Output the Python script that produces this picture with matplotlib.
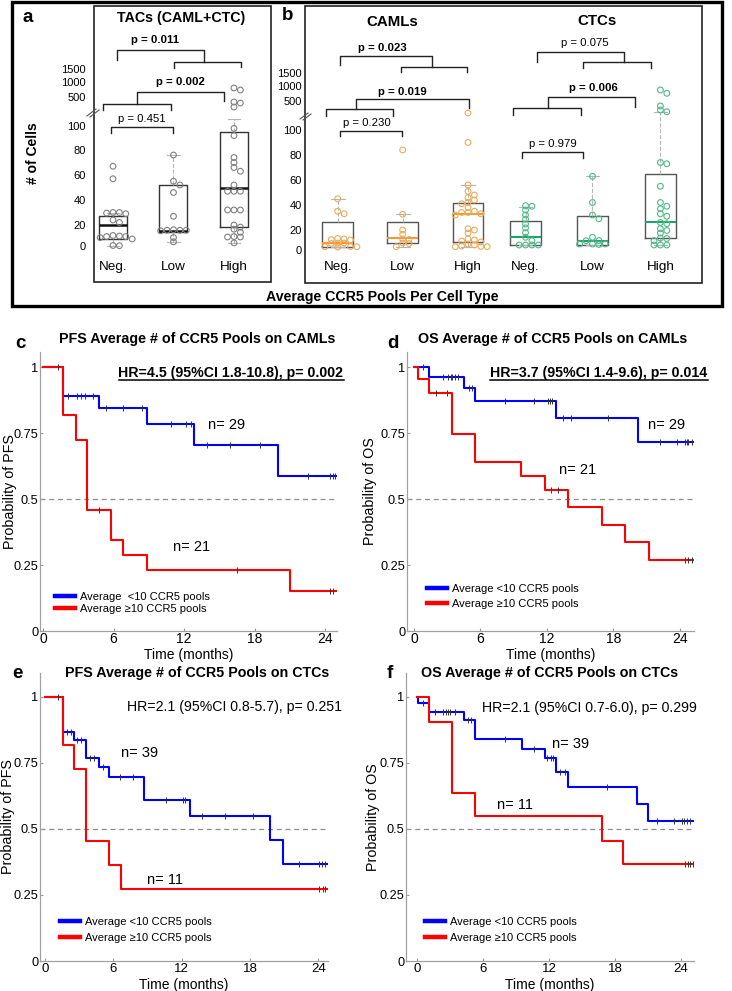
import numpy as np
import matplotlib.pyplot as plt
from matplotlib.patches import Rectangle
from matplotlib.lines import Line2D

plt.rcParams['font.family'] = ['Liberation Sans', 'DejaVu Sans']

# ---------------- data: box plots (# of cells) ----------------
groups = ['Neg.', 'Low', 'High']

# TACs (CAML+CTC)
tac_q1 = [6.7, 13.3, 18.1]
tac_med = [20, 14.6, 50]
tac_q3 = [27.3, 52.3, 95.2]
tac_lo = [0.3, 3.8, 2.9]
tac_hi = [29.7, 76.4, 200]
tac_neg = [67, 57, 30, 30, 29.5, 29, 24, 22, 10, 9.5, 9, 9, 8, 6.7, 0.5, 0.3]
tac_low = [76, 55, 52, 46, 27, 15.5, 15, 15, 15, 14.5, 8, 4]
tac_high = [800, 733, 431, 417, 362, 98, 92, 74, 70, 66, 63, 52, 47, 47, 47,
            32, 32, 32, 20, 18, 16, 13, 9, 8.6, 8.6, 3]

# CAMLs
caml_q1 = [3.3, 6.7, 8.3]
caml_med = [6.7, 12.3, 32.6]
caml_q3 = [26.6, 26.2, 41.4]
caml_lo = [3.3, 3.3, 3.3]
caml_hi = [44.6, 32.6, 56]
caml_neg = [45, 35, 33, 11.5, 11, 10.5, 10, 7, 7, 6.5, 3.5, 3.3, 3.3, 3]
caml_low = [84, 32.6, 20, 15.7, 11, 10.5, 7, 6.5, 3.3]
caml_high = [334, 90, 56, 51, 48, 46, 44, 42, 41, 38, 35, 34, 34, 33, 32, 21,
             20, 17, 11, 10, 9, 8, 6, 5, 4, 3.5, 3.3, 3.3]

# CTCs
ctc_q1 = [5, 5, 12.3]
ctc_med = [12.7, 9.3, 26.6]
ctc_q3 = [27.4, 31.2, 64.6]
ctc_lo = [5, 5, 5]
ctc_hi = [38.5, 63.2, 352]
ctc_neg = [39.5, 39, 36, 32, 28.6, 24.8, 21.7, 17.3, 12.7, 9.3, 5, 5, 5, 5]
ctc_low = [63, 42, 32, 29, 12.7, 9.5, 9.3, 6, 6, 6, 5.5]
ctc_high = [867, 757, 431, 376, 352, 74, 73, 55, 42, 39, 37, 33, 31, 26, 25,
            21, 19.5, 17, 12, 11.5, 9.3, 5, 5, 5]

ytick_vals = [0, 20, 40, 60, 80, 100, 500, 1000, 1500]

# ---------------- data: Kaplan-Meier curves ----------------
# c: PFS on CAMLs
c_blue_t = [1.7, 4.77, 8.85, 12.85, 20.0]
c_blue_s = [0.89, 0.845, 0.784, 0.705, 0.587]
c_blue_c = [2.13, 2.89, 3.23, 3.57, 4.26, 5.36, 6.81, 8.43, 10.89, 12.17, 12.6,
            13.96, 15.91, 18.47, 22.55, 24.43, 24.68, 24.85]
c_red_t = [1.7, 2.81, 3.74, 5.79, 6.81, 8.85, 21.0]
c_red_s = [0.818, 0.723, 0.458, 0.345, 0.288, 0.231, 0.152]
c_red_c = [1.28, 4.77, 16.5, 24.43, 24.68]

# d: OS on CAMLs
d_blue_t = [1.35, 4.55, 5.55, 12.8, 20.2]
d_blue_s = [0.962, 0.92, 0.871, 0.807, 0.716]
d_blue_c = [0.8, 2.65, 3.1, 3.35, 3.45, 3.7, 4.0, 4.97, 5.2, 8.2, 10.8, 12.1, 12.3,
            12.5, 13.5, 14.2, 17.55, 22.2, 23.8, 24.5, 24.7, 24.8, 25.1]
d_red_t = [0.4, 1.4, 3.45, 5.55, 9.7, 11.8, 13.9, 17.0, 19.05, 21.2]
d_red_s = [0.955, 0.90, 0.746, 0.64, 0.587, 0.534, 0.47, 0.40, 0.337, 0.269]
d_red_c = [2.0, 2.95, 12.4, 13.0, 24.5, 24.75, 25.1]

# e: PFS on CTCs
e_blue_t = [1.55, 2.55, 3.6, 4.7, 5.65, 8.7, 12.7, 19.8, 20.9]
e_blue_s = [0.866, 0.837, 0.77, 0.735, 0.696, 0.61, 0.549, 0.458, 0.366]
e_blue_c = [1.9, 2.3, 2.85, 3.2, 3.95, 4.3, 5.1, 6.6, 7.75, 10.6, 12.1, 12.3,
            13.75, 15.8, 18.3, 22.3, 24.1, 24.3, 24.6]
e_red_t = [1.55, 2.55, 3.6, 5.6, 6.65]
e_red_s = [0.818, 0.727, 0.455, 0.364, 0.273]
e_red_c = [1.1, 24.1, 24.4, 24.6]

# f: OS on CTCs
f_blue_t = [0.06, 1.12, 4.3, 5.3, 9.5, 11.6, 12.6, 13.7, 20.0, 21.0]
f_blue_s = [0.975, 0.943, 0.913, 0.841, 0.803, 0.768, 0.717, 0.658, 0.594, 0.528]
f_blue_c = [0.57, 1.6, 2.4, 2.6, 2.8, 3.0, 3.45, 4.6, 4.9, 8.0, 10.6, 11.8, 12.2,
            12.4, 13.0, 13.45, 17.3, 21.8, 23.4, 24.1, 24.3, 24.5, 24.8]
f_red_t = [1.12, 3.2, 5.3, 16.8, 18.7]
f_red_s = [0.906, 0.635, 0.547, 0.455, 0.366]
f_red_c = [24.4, 24.6, 24.8, 25.1]

BLUE = '#0000ff'
RED = '#ff0000'

# ---------------- figure ----------------
W, H = 732, 991
fig = plt.figure(figsize=(W / 100, H / 100), dpi=100)


def add_ax(l, t, r, b):
    return fig.add_axes([l / W, 1 - b / H, (r - l) / W, (b - t) / H])


def broken_scale(px, bottom):
    # piecewise linear value -> height mapping (y axis has a break above 100)
    px = np.asarray(px, float)
    lo = px[0] + 1000 * (px[0] - px[1]) / 20
    hi = px[-1] - 98500 * (px[-2] - px[-1]) / 500
    v = np.concatenate([[-1000], ytick_vals, [100000]])
    h = bottom - np.concatenate([[lo], px, [hi]])
    return (lambda x: np.interp(x, v, h)), (lambda y: np.interp(y, h, v))


def swarm(vals, fwd, unit_px, step=6.4, mind=3.8):
    ys = fwd(np.asarray(vals, float))
    xs = []
    for y in ys:
        k = 0
        while True:
            cands = [0.0] if k == 0 else [k * step, -k * step]
            found = None
            for c in cands:
                if all((c - xs[j]) ** 2 + (y - ys[j]) ** 2 >= mind ** 2
                       for j in range(len(xs))):
                    found = c
                    break
            if found is not None:
                xs.append(found)
                break
            k += 1
    return np.array(xs) / unit_px


def boxes(ax, pos, q1, med, q3, lo, hi, pts, fwd, unit_px, width,
          med_color, med_lw, pt_color, box_color):
    stats = [dict(q1=a, med=m, q3=c, whislo=w0, whishi=w1, fliers=[])
             for a, m, c, w0, w1 in zip(q1, med, q3, lo, hi)]
    ax.bxp(stats, positions=pos, widths=width, capwidths=width * 0.45,
           showfliers=False, manage_ticks=False,
           boxprops=dict(color=box_color, lw=1.0),
           medianprops=dict(color=med_color, lw=med_lw),
           whiskerprops=dict(color='#b5b5b5', lw=0.8, ls='--'),
           capprops=dict(color='#b5b5b5', lw=0.8))
    for p, v in zip(pos, pts):
        off = swarm(v, fwd, unit_px)
        ax.scatter(p + off, v, s=17, facecolors='none', edgecolors=pt_color,
                   linewidths=0.8, zorder=3)


def style_box_axes(ax, pad):
    for s in ax.spines.values():
        s.set_visible(False)
    ax.patch.set_visible(False)
    ax.set_xticks([])
    ax.set_yticks(ytick_vals)
    ax.set_yticklabels([str(v) for v in ytick_vals])
    ax.tick_params(axis='y', length=0, pad=pad, labelsize=8)


# panel a
ax_a = add_ax(94, 6, 271, 282)
fa, ia = broken_scale([246, 225, 200, 175, 150, 126, 97, 82, 69], 282)
ax_a.set_yscale('function', functions=(fa, ia))
pos_a = [1, 2, 3]
boxes(ax_a, pos_a, tac_q1, tac_med, tac_q3, tac_lo, tac_hi,
      [tac_neg, tac_low, tac_high], fa, 60.5, 0.463, '#111111', 1.8,
      '#808080', '#333333')
ax_a.set_ylim(ia(0), ia(276))
ax_a.set_xlim(0.686, 3.612)
style_box_axes(ax_a, 5.8)
for p, g in zip(pos_a, groups):
    ax_a.text(p, 0.054, g, transform=ax_a.get_xaxis_transform(),
              ha='center', va='center', fontsize=9.7)

# panel b
ax_b = add_ax(305, 6, 702, 283)
fb, ib = broken_scale([250, 230, 205, 180, 155, 130, 101, 86, 73], 283)
ax_b.set_yscale('function', functions=(fb, ib))
pos_caml = [1, 2, 3.005]
pos_ctc = [3.89, 4.92, 5.965]
boxes(ax_b, pos_caml, caml_q1, caml_med, caml_q3, caml_lo, caml_hi,
      [caml_neg, caml_low, caml_high], fb, 65, 0.47, '#f39a2e', 1.5,
      '#eaaa5c', '#555555')
boxes(ax_b, pos_ctc, ctc_q1, ctc_med, ctc_q3, ctc_lo, ctc_hi,
      [ctc_neg, ctc_low, ctc_high], fb, 65, 0.47, '#1fa36c', 1.5,
      '#4fb987', '#555555')
ax_b.set_ylim(ib(0), ib(277))
ax_b.set_xlim(0.497, 6.605)
style_box_axes(ax_b, 2.2)
for p, g in zip(pos_caml + pos_ctc, groups + groups):
    ax_b.text(p, 0.058, g, transform=ax_b.get_xaxis_transform(),
              ha='center', va='center', fontsize=9.7)


# Kaplan-Meier panels
def km_curve(ax, t, s, cens, t_end, color):
    tt = np.concatenate([[0], t, [t_end]])
    ss = np.concatenate([[1], s, [s[-1]]])
    ax.step(tt, ss, where='post', color=color, lw=1.5, zorder=3)
    idx = np.searchsorted(t, cens, side='right')
    cs = np.concatenate([[1], s])[idx]
    ax.plot(cens, cs, ls='none', marker='|', ms=4, mew=0.7, color='#333333',
            zorder=4)


def km_panel(rect, xlim, ytop, blue, red, ylab, leg_xy, leg_gap, tick_pad,
             xlab_off, ylab_x, leg_labels, xfs=10):
    l, t, r, b = rect
    ax = add_ax(l, t, r, b)
    ax.axhline(0.5, color='#8c8c8c', lw=0.9, ls=(0, (4, 3)), zorder=1)
    km_curve(ax, *blue, xlim[1], BLUE)
    km_curve(ax, *red, xlim[1], RED)
    ax.set_xlim(*xlim)
    ax.set_ylim(0, ytop)
    ax.set_xticks([0, 6, 12, 18, 24])
    ax.set_yticks([0, 0.25, 0.5, 0.75, 1])
    ax.set_yticklabels(['0', '0.25', '0.5', '0.75', '1'])
    ax.tick_params(axis='y', direction='in', length=2.5, pad=1, labelsize=9.2,
                   color='#999999')
    ax.tick_params(axis='x', direction='in', length=2.5, pad=tick_pad,
                   labelsize=xfs, color='#999999')
    for s in ['top', 'right']:
        ax.spines[s].set_visible(False)
    for s in ['left', 'bottom']:
        ax.spines[s].set_color('#a0a0a0')
        ax.spines[s].set_linewidth(0.9)
    ax.set_xlabel('Time (months)', fontsize=10)
    ax.xaxis.set_label_coords(0.5, -xlab_off / (b - t))
    ax.set_ylabel(ylab, fontsize=10.3)
    ax.yaxis.set_label_coords(-(l - ylab_x - 7) / (r - l), 0.5)
    hx, hy = leg_xy
    handles = [Line2D([], [], color=BLUE, lw=3.2), Line2D([], [], color=RED, lw=3.2)]
    ax.legend(handles, leg_labels, loc='upper left',
              bbox_to_anchor=((hx - l) / (r - l), (b - (hy - 6.4)) / (b - t)),
              frameon=False, borderpad=0, borderaxespad=0, handlelength=1.8,
              handletextpad=0.45, labelspacing=(leg_gap - 12.7) / 11.1,
              fontsize=8)
    return ax


lab_lt = 'Average <10 CCR5 pools'
lab_ge = 'Average \u226510 CCR5 pools'

km_panel((40, 352, 337, 631), (-0.255, 25.02), 1.057,
         (c_blue_t, c_blue_s, c_blue_c), (c_red_t, c_red_s, c_red_c),
         'Probability of PFS', (55, 598), 15, 0.5, 17, 10,
         ['Average  <10 CCR5 pools', lab_ge])
km_panel((407, 352, 694, 631), (-0.63, 25.3), 1.057,
         (d_blue_t, d_blue_s, d_blue_c), (d_red_t, d_red_s, d_red_c),
         'Probability of OS', (427, 590), 18, 0.5, 17, 370,
         [lab_lt, lab_ge])
km_panel((40, 673, 328, 961), (-0.44, 24.85), 1.09,
         (e_blue_t, e_blue_s, e_blue_c), (e_red_t, e_red_s, e_red_c),
         'Probability of PFS', (60, 923), 19, 1.2, 17, 8,
         [lab_lt, lab_ge], xfs=9.5)
km_panel((406, 673, 694, 961), (-1.0, 25.18), 1.09,
         (f_blue_t, f_blue_s, f_blue_c), (f_red_t, f_red_s, f_red_c),
         'Probability of OS', (425, 923), 19, 1.2, 17, 373,
         [lab_lt, lab_ge], xfs=9.5)

# ---------------- overlay: frames, brackets, labels ----------------
ov = fig.add_axes([0, 0, 1, 1])
ov.set_xlim(0, W)
ov.set_ylim(H, 0)
ov.axis('off')

ov.add_patch(Rectangle((12, 2), 710, 304, fill=False, lw=2.4, ec='black'))
ov.add_patch(Rectangle((94, 6), 177, 276, fill=False, lw=1.2, ec='#222222'))
ov.add_patch(Rectangle((305, 6), 397, 277, fill=False, lw=1.2, ec='#222222'))

brackets = [
    (117, 204, 50, 60, 62), (174, 241, 62, 68, 67), (137, 224, 92, 104, 101),
    (103, 171, 104, 110, 110), (111, 173, 127, 133, 133),
    (340, 432, 56, 65, 67), (401, 467, 67, 72, 72), (356, 469, 99, 109, 108),
    (326, 393, 109, 116, 116), (340, 402, 131, 136, 136),
    (537, 624, 52, 62, 62), (583, 651, 62, 68, 68), (548, 635, 97, 108, 107),
    (513, 581, 108, 115, 115), (522, 583, 152, 158, 158),
]
for x1, x2, y, y1, y2 in brackets:
    ov.plot([x1, x1, x2, x2], [y1, y, y, y2], color='#222222', lw=1.0)

pvals = [
    ('p = 0.011', 155, 40, 'bold'), ('p = 0.002', 180, 82, 'bold'),
    ('p = 0.451', 142, 119, 'normal'),
    ('p = 0.023', 382, 48, 'bold'), ('p = 0.019', 402, 92, 'bold'),
    ('p = 0.230', 367, 123, 'normal'),
    ('p = 0.075', 585, 43, 'normal'), ('p = 0.006', 593, 88, 'bold'),
    ('p = 0.979', 553, 144, 'normal'),
]
for txt, x, y, w in pvals:
    ov.text(x, y, txt, ha='center', va='center', fontsize=8.2, fontweight=w)

# axis break marks
for dx in (0, 3):
    ov.plot([87 + dx, 96 + dx], [116 + dx / 3, 109 + dx / 3], color='#555555', lw=0.8)
    ov.plot([300 + dx, 308 + dx], [119 + dx / 3, 113 + dx / 3], color='#555555', lw=0.8)

ov.text(28, 17, 'a', ha='center', va='center', fontsize=13.5, fontweight='bold')
ov.text(288, 16, 'b', ha='center', va='center', fontsize=13.5, fontweight='bold')
ov.text(181, 18, 'TACs (CAML+CTC)', ha='center', va='center', fontsize=10.3,
        fontweight='bold')
ov.text(392, 22, 'CAMLs', ha='center', va='center', fontsize=10.8, fontweight='bold')
ov.text(597, 21, 'CTCs', ha='center', va='center', fontsize=10.8, fontweight='bold')
ov.text(33, 153, '# of Cells', ha='center', va='center', rotation=90, fontsize=10,
        fontweight='bold')
ov.text(382, 297, 'Average CCR5 Pools Per Cell Type', ha='center', va='center',
        fontsize=10.2, fontweight='bold')

km_text = [
    ('c', 20, 343, 197, 339, 'PFS Average # of CCR5 Pools on CAMLs'),
    ('d', 393, 343, 553, 339, 'OS Average # of CCR5 Pools on CAMLs'),
    ('e', 17, 673, 197, 673, 'PFS Average # of CCR5 Pools on CTCs'),
    ('f', 390, 673, 550, 673, 'OS Average # of CCR5 Pools on CTCs'),
]
for let, lx, ly, tx, ty, title in km_text:
    ov.text(lx, ly, let, ha='center', va='center', fontsize=13.5, fontweight='bold')
    ov.text(tx, ty, title, ha='center', va='center', fontsize=10.3, fontweight='bold')

hr_bold = [
    ov.text(231, 373, 'HR=4.5 (95%CI 1.8-10.8), p= 0.002', ha='center',
            va='center', fontsize=10.2, fontweight='bold'),
    ov.text(599, 373, 'HR=3.7 (95%CI 1.4-9.6), p= 0.014', ha='center',
            va='center', fontsize=10.2, fontweight='bold'),
]
ov.text(235, 707, 'HR=2.1 (95%CI 0.8-5.7), p= 0.251', ha='center', va='center',
        fontsize=10.2)
ov.text(589, 708, 'HR=2.1 (95%CI 0.7-6.0), p= 0.299', ha='center', va='center',
        fontsize=10.2)

n_labels = [('n= 29', 227, 425), ('n= 21', 192, 547), ('n= 29', 667, 425),
            ('n= 21', 578, 470), ('n= 39', 140, 753), ('n= 11', 165, 880),
            ('n= 39', 571, 744), ('n= 11', 515, 805)]
for txt, x, y in n_labels:
    ov.text(x, y, txt, ha='center', va='center', fontsize=10.5)

# underline the bold hazard-ratio texts
fig.canvas.draw()
inv = ov.transData.inverted()
for t in hr_bold:
    bb = t.get_window_extent()
    (x0, y0), (x1, _) = inv.transform([[bb.x0, bb.y0], [bb.x1, bb.y1]])
    ov.plot([x0, x1], [y0 - 0.5, y0 - 0.5], color='black', lw=1.1)

fig.savefig('out.png', dpi=100)
